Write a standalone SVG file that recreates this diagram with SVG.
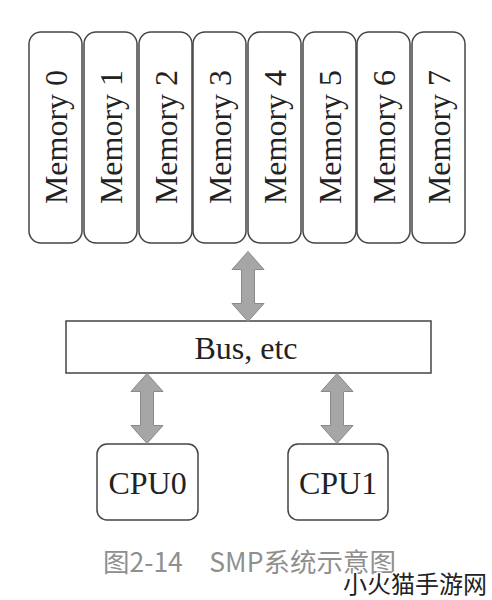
<svg xmlns="http://www.w3.org/2000/svg" width="492" height="600" viewBox="0 0 492 600">
<style>
.box{fill:#fff;stroke:#444;stroke-width:1.5}
.t{font-family:"Liberation Serif","Times New Roman",serif;fill:#222;text-anchor:middle;dominant-baseline:central}
.mem{font-size:32px}
.arr{fill:#a6a6a6;stroke:#8a8a8a;stroke-width:1}
.cap{font-family:"Noto Sans CJK SC","Noto Sans",sans-serif;font-size:26.5px;fill:#8f8f8f}
.wm{font-family:"Noto Sans CJK SC",sans-serif;font-size:24px;fill:#222;stroke:#fff;stroke-width:3;paint-order:stroke}
</style>
<defs>
<path id="dbl" d="M0,-35 L-16,-17 L-6.5,-17 L-6.5,17 L-16,17 L0,35 L16,17 L6.5,17 L6.5,-17 L16,-17 Z"/>
</defs>
<rect width="492" height="600" fill="#fff"/>
<g id="mem0"><rect class="box" x="29" y="32" width="53" height="211" rx="12"/><text class="t mem" transform="translate(55.5,137) rotate(-90)">Memory 0</text></g>
<g id="mem1"><rect class="box" x="84" y="32" width="53" height="211" rx="12"/><text class="t mem" transform="translate(110.5,137) rotate(-90)">Memory 1</text></g>
<g id="mem2"><rect class="box" x="139" y="32" width="53" height="211" rx="12"/><text class="t mem" transform="translate(165.5,137) rotate(-90)">Memory 2</text></g>
<g id="mem3"><rect class="box" x="193" y="32" width="53" height="211" rx="12"/><text class="t mem" transform="translate(219.5,137) rotate(-90)">Memory 3</text></g>
<g id="mem4"><rect class="box" x="248" y="32" width="53" height="211" rx="12"/><text class="t mem" transform="translate(274.5,137) rotate(-90)">Memory 4</text></g>
<g id="mem5"><rect class="box" x="303" y="32" width="53" height="211" rx="12"/><text class="t mem" transform="translate(329.5,137) rotate(-90)">Memory 5</text></g>
<g id="mem6"><rect class="box" x="357" y="32" width="53" height="211" rx="12"/><text class="t mem" transform="translate(383.5,137) rotate(-90)">Memory 6</text></g>
<g id="mem7"><rect class="box" x="412" y="32" width="53" height="211" rx="12"/><text class="t mem" transform="translate(438.5,137) rotate(-90)">Memory 7</text></g>
<g id="bus"><rect class="box" x="66" y="321" width="365" height="52"/><text class="t" x="246" y="348" font-size="32">Bus, etc</text></g>
<g id="cpu0"><rect class="box" x="97" y="444" width="101" height="76" rx="10"/><text class="t" x="147.5" y="483" font-size="32">CPU0</text></g>
<g id="cpu1"><rect class="box" x="288" y="444" width="100" height="76" rx="10"/><text class="t" x="338" y="483" font-size="32">CPU1</text></g>
<g id="connectors">
<use href="#dbl" class="arr" transform="translate(248,286.5)"/>
<use href="#dbl" class="arr" transform="translate(147,408.5)"/>
<use href="#dbl" class="arr" transform="translate(337,408.5)"/>
</g>
<text class="cap" x="103" y="572">图2-14　SMP系统示意图</text>
<text class="wm" x="343" y="593">小火猫手游网</text>
</svg>
